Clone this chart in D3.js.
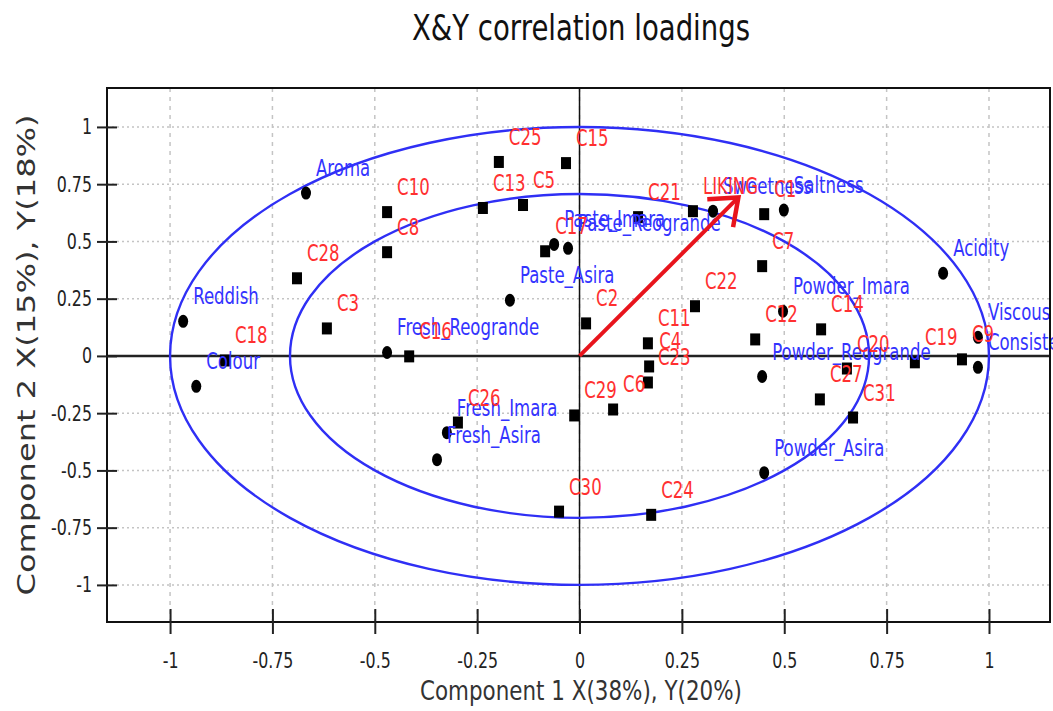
<!DOCTYPE html>
<html>
<head>
<meta charset="utf-8">
<script src="https://cdn.jsdelivr.net/npm/d3@7"></script>
<style>
  body { margin: 0; background: #fff; }
  text { font-family: "DejaVu Sans", Verdana, sans-serif; }
</style>
</head>
<body>
<script>
// sensory attributes and products (circles)
var attrNames = ['Aroma', 'Reddish', 'Colour', 'Fresh_Reogrande', 'Paste_Asira', 'Paste_Imara',
  'Paste_Reogrande', 'Fresh_Imara', 'Fresh_Asira', 'Sweetness', 'Saltness', 'Powder_Imara',
  'Powder_Reogrande', 'Powder_Asira', 'Acidity', 'Viscous', 'Consistency'];
var attrX = [-0.668, -0.968, -0.936, -0.470, -0.170, -0.062, -0.028, -0.324, -0.348, 0.326, 0.499,
  0.497, 0.446, 0.451, 0.888, 0.973, 0.973];
var attrY = [0.711, 0.151, -0.133, 0.015, 0.243, 0.487, 0.470, -0.335, -0.453, 0.632, 0.637,
  0.195, -0.090, -0.510, 0.361, 0.081, -0.050];

// consumers and liking (squares)
var consNames = ['C1', 'C2', 'C3', 'C4', 'C5', 'C6', 'C7', 'C8', 'C9', 'C10', 'C11', 'C12', 'C13',
  'C14', 'C15', 'C16', 'C17', 'C18', 'C19', 'C20', 'C21', 'C22', 'C23', 'C24', 'C25', 'C26', 'C27',
  'C28', 'C29', 'C30', 'C31', 'LIKING'];
var consX = [0.451, 0.016, -0.617, 0.170, -0.138, 0.082, 0.446, -0.470, 0.934, -0.470, 0.167, 0.429,
  -0.236, 0.590, -0.033, -0.416, -0.084, -0.866, 0.819, 0.653, 0.143, 0.282, 0.167, 0.175, -0.197,
  -0.297, 0.587, -0.690, -0.013, -0.050, 0.668, 0.277];
var consY = [0.619, 0.142, 0.120, -0.046, 0.659, -0.234, 0.392, 0.453, -0.015, 0.628, 0.055, 0.072,
  0.646, 0.116, 0.842, -0.002, 0.457, -0.020, -0.028, -0.055, 0.606, 0.217, -0.116, -0.694, 0.847,
  -0.291, -0.190, 0.339, -0.260, -0.680, -0.269, 0.632];

// liking arrow tip
var arrowTip = [0.388, 0.692];

var tickValues = [-1, -0.75, -0.5, -0.25, 0, 0.25, 0.5, 0.75, 1];
var tickLabels = ['-1', '-0.75', '-0.5', '-0.25', '0', '0.25', '0.5', '0.75', '1'];
var ellipseRadii = [1, Math.SQRT1_2];

(function () {
  var svg, plot, x, y, xAxis, yAxis, width, height, left, top, right, bottom,
    blue, red, sx, attrs, cons;

  width = 1053;
  height = 711;
  left = 107;
  top = 88;
  right = 1050;
  bottom = 622;
  blue = '#3333ff';
  red = '#ff3030';
  sx = 0.72; // glyphs in the picture are narrow

  x = d3.scaleLinear().domain([-1.154, 1.149]).range([left, right]);
  y = d3.scaleLinear().domain([-1.162, 1.170]).range([bottom, top]);

  svg = d3.select('body')
    .append('svg')
    .attr('width', width)
    .attr('height', height);

  svg.append('defs').append('clipPath')
    .attr('id', 'clip')
    .append('rect')
    .attr('x', left)
    .attr('y', top)
    .attr('width', width - left)
    .attr('height', bottom - top);

  // grid
  svg.append('g').selectAll('line')
    .data(tickValues)
    .enter()
    .append('line')
    .attr('x1', left).attr('x2', right)
    .attr('y1', function (d) { return y(d); })
    .attr('y2', function (d) { return y(d); })
    .attr('stroke', '#c4c4c4')
    .attr('stroke-width', 1.5)
    .attr('stroke-dasharray', '2,3');

  svg.append('g').selectAll('line')
    .data(tickValues)
    .enter()
    .append('line')
    .attr('y1', top).attr('y2', bottom)
    .attr('x1', function (d) { return x(d); })
    .attr('x2', function (d) { return x(d); })
    .attr('stroke', '#c4c4c4')
    .attr('stroke-width', 1.5)
    .attr('stroke-dasharray', '4,5');

  plot = svg.append('g').attr('clip-path', 'url(#clip)');

  // zero lines
  plot.append('line')
    .attr('x1', left).attr('x2', right)
    .attr('y1', y(0)).attr('y2', y(0))
    .attr('stroke', '#222')
    .attr('stroke-width', 2.5);
  plot.append('line')
    .attr('y1', top).attr('y2', bottom)
    .attr('x1', x(0)).attr('x2', x(0))
    .attr('stroke', '#111')
    .attr('stroke-width', 1.5);

  // 50% and 100% explained variance ellipses
  plot.selectAll('ellipse.ring')
    .data(ellipseRadii)
    .enter()
    .append('ellipse')
    .attr('class', 'ring')
    .attr('cx', x(0))
    .attr('cy', y(0))
    .attr('rx', function (d) { return x(d) - x(0); })
    .attr('ry', function (d) { return y(0) - y(d); })
    .attr('fill', 'none')
    .attr('stroke', '#2f2ff5')
    .attr('stroke-width', 2.4);

  attrs = attrNames.map(function (n, i) { return { name: n, x: attrX[i], y: attrY[i] }; });
  cons = consNames.map(function (n, i) { return { name: n, x: consX[i], y: consY[i] }; });

  // markers
  plot.selectAll('ellipse.pt')
    .data(attrs)
    .enter()
    .append('ellipse')
    .attr('class', 'pt')
    .attr('cx', function (d) { return x(d.x); })
    .attr('cy', function (d) { return y(d.y); })
    .attr('rx', 5)
    .attr('ry', 6.5)
    .attr('fill', '#000');

  plot.selectAll('rect.pt')
    .data(cons)
    .enter()
    .append('rect')
    .attr('class', 'pt')
    .attr('x', function (d) { return x(d.x) - 5; })
    .attr('y', function (d) { return y(d.y) - 6; })
    .attr('width', 10)
    .attr('height', 12)
    .attr('fill', '#000');

  // labels
  function addLabels(data, color) {
    plot.append('g').selectAll('text')
      .data(data)
      .enter()
      .append('text')
      .attr('transform', function (d) {
        return 'translate(' + (x(d.x) + 10) + ',' + (y(d.y) - 17) + ') scale(' + sx + ',1)';
      })
      .attr('font-size', 23)
      .attr('fill', color)
      .text(function (d) { return d.name; });
  }
  addLabels(attrs, blue);
  addLabels(cons, red);

  // liking arrow
  plot.append('path')
    .attr('d', 'M' + x(0) + ',' + y(0) + 'L' + x(arrowTip[0]) + ',' + y(arrowTip[1]))
    .attr('stroke', '#e8141c')
    .attr('stroke-width', 4)
    .attr('fill', 'none');
  plot.append('path')
    .attr('d', 'M' + x(arrowTip[0] - 0.076) + ',' + y(arrowTip[1] - 0.008) +
      'L' + x(arrowTip[0]) + ',' + y(arrowTip[1]) +
      'L' + x(arrowTip[0] - 0.013) + ',' + y(arrowTip[1] - 0.13))
    .attr('stroke', '#e8141c')
    .attr('stroke-width', 4.5)
    .attr('fill', 'none');

  // frame
  svg.append('rect')
    .attr('x', left)
    .attr('y', top)
    .attr('width', right - left)
    .attr('height', bottom - top)
    .attr('fill', 'none')
    .attr('stroke', '#111')
    .attr('stroke-width', 2);

  xAxis = d3.axisBottom(x)
    .tickValues(tickValues)
    .tickSize(12)
    .tickSizeOuter(0)
    .tickFormat(function (d, i) { return tickLabels[i]; });

  yAxis = d3.axisLeft(y)
    .tickValues(tickValues)
    .tickSize(10)
    .tickSizeOuter(0)
    .tickFormat(function (d, i) { return tickLabels[i]; });

  svg.append('g')
    .attr('transform', 'translate(0,' + bottom + ')')
    .call(xAxis)
    .call(function (g) {
      g.select('.domain').remove();
      g.selectAll('.tick line').attr('y1', -13).attr('stroke', '#222').attr('stroke-width', 2);
      g.selectAll('.tick text')
        .attr('y', 30)
        .attr('dy', '0.71em')
        .attr('font-size', 22)
        .attr('fill', '#222')
        .attr('font-family', '"DejaVu Sans", sans-serif')
        .attr('transform', 'scale(' + sx + ',1)');
    });

  svg.append('g')
    .attr('transform', 'translate(' + left + ',0)')
    .call(yAxis)
    .call(function (g) {
      g.select('.domain').remove();
      g.selectAll('.tick line').attr('x1', 10).attr('stroke', '#222').attr('stroke-width', 2);
      g.selectAll('.tick text')
        .attr('x', -15 / sx)
        .attr('font-size', 22)
        .attr('fill', '#222')
        .attr('font-family', '"DejaVu Sans", sans-serif')
        .attr('transform', 'scale(' + sx + ',1)');
    });

  // titles
  svg.append('text')
    .attr('x', 581)
    .attr('y', 40)
    .attr('text-anchor', 'middle')
    .attr('font-size', 36)
    .attr('textLength', 338)
    .attr('lengthAdjust', 'spacingAndGlyphs')
    .attr('fill', '#111')
    .text('X&Y correlation loadings');

  svg.append('text')
    .attr('x', 581)
    .attr('y', 700)
    .attr('text-anchor', 'middle')
    .attr('font-size', 27)
    .attr('textLength', 322)
    .attr('lengthAdjust', 'spacingAndGlyphs')
    .attr('fill', '#333')
    .text('Component 1 X(38%), Y(20%)');

  svg.append('text')
    .attr('transform', 'translate(35,355) rotate(-90) scale(1,0.75)')
    .attr('text-anchor', 'middle')
    .attr('font-size', 33)
    .attr('textLength', 481)
    .attr('lengthAdjust', 'spacingAndGlyphs')
    .attr('fill', '#333')
    .text('Component 2 X(15%), Y(18%)');
}());
</script>
</body>
</html>
